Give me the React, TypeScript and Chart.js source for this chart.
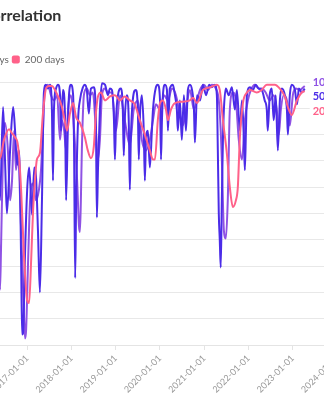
import { useEffect, useRef } from "react";
import { Chart, registerables } from "chart.js";

Chart.register(...registerables);

const TITLE = "Correlation";
const LEGEND_ORDER = ["50 days", "100 days", "200 days"];
const TICK_YEARS = [2016, 2017, 2018, 2019, 2020, 2021, 2022, 2023, 2024];
const X_MIN = "2015-12-17";
const X_MAX = "2024-04-01";

const BLUE = "#4b2ce8";
const PURPLE = "#8f52e4";
const PINK = "#ff6189";

const days50Dates = [
  "2015-12-17", "2016-02-14", "2016-04-03", "2016-05-05", "2016-05-22", "2016-06-16", "2016-07-02", "2016-07-18",
  "2016-08-13", "2016-09-07", "2016-09-23", "2016-10-10", "2016-10-26", "2016-11-12", "2016-11-20", "2016-11-28",
  "2016-12-15", "2017-01-01", "2017-01-17", "2017-02-03", "2017-02-11", "2017-02-28", "2017-03-14", "2017-03-31",
  "2017-04-16", "2017-05-03", "2017-05-19", "2017-06-05", "2017-06-21", "2017-07-08", "2017-07-24", "2017-08-02",
  "2017-08-10", "2017-08-27", "2017-09-13", "2017-09-29", "2017-10-07", "2017-10-23", "2017-11-10", "2017-11-18",
  "2017-12-04", "2017-12-12", "2017-12-28", "2018-01-15", "2018-01-23", "2018-02-01", "2018-02-09", "2018-02-25",
  "2018-03-12", "2018-04-06", "2018-04-22", "2018-05-08", "2018-05-25", "2018-06-11", "2018-07-05", "2018-07-22",
  "2018-07-30", "2018-08-08", "2018-08-24", "2018-09-10", "2018-10-05", "2018-10-29", "2018-11-15", "2018-12-01",
  "2018-12-18", "2018-12-26", "2019-01-04", "2019-01-20", "2019-02-14", "2019-03-01", "2019-03-09", "2019-03-17",
  "2019-04-03", "2019-04-19", "2019-04-28", "2019-05-06", "2019-05-22", "2019-06-16", "2019-07-03", "2019-07-11",
  "2019-07-19", "2019-08-05", "2019-08-21", "2019-08-30", "2019-09-08", "2019-09-24", "2019-10-10", "2019-10-27",
  "2019-11-05", "2019-11-29", "2019-12-15", "2020-01-02", "2020-01-10", "2020-01-18", "2020-01-26", "2020-02-12",
  "2020-02-28", "2020-03-07", "2020-03-23", "2020-04-17", "2020-05-04", "2020-05-20", "2020-05-28", "2020-06-14",
  "2020-06-30", "2020-07-17", "2020-08-03", "2020-08-19", "2020-09-05", "2020-09-22", "2020-10-08", "2020-10-16",
  "2020-11-02", "2020-11-27", "2020-12-21", "2021-01-16", "2021-02-10", "2021-03-04", "2021-03-29", "2021-04-15",
  "2021-04-23", "2021-05-01", "2021-05-09", "2021-05-17", "2021-05-26", "2021-06-04", "2021-06-12", "2021-06-28",
  "2021-07-22", "2021-08-17", "2021-09-11", "2021-09-27", "2021-10-22", "2021-11-08", "2021-11-24", "2021-12-02",
  "2021-12-11", "2021-12-19", "2022-01-13", "2022-02-07", "2022-03-02", "2022-03-26", "2022-04-20", "2022-05-15",
  "2022-06-01", "2022-06-09", "2022-06-25", "2022-07-12", "2022-07-28", "2022-08-14", "2022-08-31", "2022-09-17",
  "2022-10-03", "2022-10-28", "2022-11-14", "2022-11-22", "2022-12-08", "2022-12-24", "2023-01-19", "2023-02-05",
  "2023-02-21", "2023-03-16", "2023-04-10",
];
const days50Values = [
  0.79, 0.56, 0.86, 0.41, 0.1, 0.81, 0.41, 0.0,
  0.48, 0.81, 0.63, 0.37, 0.48, -0.35, -0.92, -0.91,
  -0.28, 0.18, 0.35, 0.1, -0.01, 0.35, 0.29, -0.13,
  -0.6, 0.1, 0.92, 0.98, 0.95, 0.98, 0.79, 0.25,
  0.79, 0.95, 0.98, 0.9, 0.63, 0.94, 0.71, 0.1,
  0.71, 0.9, 0.98, 0.9, 0.48, -0.49, 0.1, 0.71,
  0.86, 0.96, 0.98, 0.94, 0.76, 0.95, 0.96, 0.71,
  -0.03, 0.33, 0.79, 0.99, 0.98, 0.9, 0.95, 0.94,
  0.71, 0.41, 0.71, 0.9, 0.95, 0.79, 0.44, 0.71,
  0.9, 0.71, 0.18, 0.56, 0.86, 0.94, 0.79, 0.41,
  0.71, 0.9, 0.63, 0.25, 0.56, 0.63, 0.35, 0.63,
  0.79, 0.96, 0.98, 0.86, 0.41, 0.71, 0.9, 0.98,
  0.94, 0.63, 0.95, 0.98, 0.9, 0.79, 0.63, 0.86,
  0.56, 0.9, 0.63, 0.94, 0.98, 0.94, 0.79, 0.54,
  0.9, 0.86, 0.98, 0.9, 0.98, 0.96, 0.98, 0.9,
  0.48, 0.0, -0.2, -0.41, 0.1, 0.56, 0.79, 0.95,
  0.9, 0.96, 0.79, 0.94, 0.63, 0.86, 0.56, 0.33,
  0.63, 0.9, 0.96, 0.94, 0.98, 0.95, 0.94, 0.86,
  0.79, 0.63, 0.9, 0.95, 0.71, 0.9, 0.48, 0.86,
  0.95, 0.9, 0.79, 0.6, 0.9, 0.98, 0.94, 0.83,
  0.95, 0.92, 0.95,
];

const days100Dates = [
  "2015-12-17", "2016-02-29", "2016-04-19", "2016-05-13", "2016-05-22", "2016-05-30", "2016-06-16", "2016-07-02",
  "2016-07-26", "2016-08-13", "2016-08-29", "2016-09-15", "2016-10-01", "2016-10-18", "2016-11-04", "2016-11-20",
  "2016-12-07", "2016-12-15", "2016-12-23", "2017-01-09", "2017-01-25", "2017-02-19", "2017-03-14", "2017-04-08",
  "2017-04-25", "2017-05-11", "2017-05-27", "2017-06-21", "2017-07-16", "2017-08-10", "2017-09-05", "2017-09-29",
  "2017-10-15", "2017-11-02", "2017-11-18", "2017-12-04", "2017-12-28", "2018-01-23", "2018-02-17", "2018-03-04",
  "2018-03-12", "2018-03-20", "2018-03-28", "2018-04-14", "2018-05-08", "2018-06-03", "2018-06-27", "2018-07-22",
  "2018-08-08", "2018-08-24", "2018-09-10", "2018-10-05", "2018-10-29", "2018-12-01", "2019-01-04", "2019-02-06",
  "2019-03-17", "2019-04-28", "2019-05-30", "2019-07-03", "2019-08-05", "2019-09-08", "2019-10-10", "2019-11-05",
  "2019-11-29", "2020-01-02", "2020-02-04", "2020-03-07", "2020-04-09", "2020-05-12", "2020-06-14", "2020-07-09",
  "2020-08-03", "2020-09-05", "2020-10-08", "2020-11-02", "2020-11-27", "2020-12-29", "2021-02-02", "2021-03-04",
  "2021-04-07", "2021-05-01", "2021-05-17", "2021-05-26", "2021-06-12", "2021-06-28", "2021-07-14", "2021-07-31",
  "2021-08-25", "2021-09-19", "2021-10-13", "2021-11-08", "2021-12-02", "2021-12-27", "2022-01-21", "2022-02-23",
  "2022-03-26", "2022-04-20", "2022-05-23", "2022-06-25", "2022-07-28", "2022-08-22", "2022-09-09", "2022-09-25",
  "2022-10-19", "2022-11-14", "2022-12-08", "2023-01-02", "2023-01-27", "2023-03-01", "2023-04-10",
];
const days100Values = [
  0.64, 0.71, 0.48, -0.2, -0.58, -0.28, 0.48, 0.69,
  0.48, 0.1, 0.25, 0.63, 0.33, 0.48, 0.1, -0.35,
  -0.81, -0.95, -0.89, -0.35, 0.1, 0.23, 0.1, 0.18,
  0.33, 0.63, 0.94, 0.98, 0.9, 0.86, 0.9, 0.56,
  0.71, 0.63, 0.48, 0.79, 0.9, 0.63, 0.25, -0.09,
  -0.14, 0.1, 0.48, 0.9, 0.95, 0.9, 0.92, 0.63,
  0.41, 0.56, 0.9, 0.95, 0.92, 0.92, 0.63, 0.9,
  0.71, 0.52, 0.79, 0.86, 0.56, 0.48, 0.56, 0.71,
  0.83, 0.79, 0.9, 0.86, 0.95, 0.9, 0.75, 0.67,
  0.79, 0.94, 0.79, 0.86, 0.94, 0.98, 0.94, 0.98,
  0.95, 0.86, 0.63, 0.41, -0.13, -0.19, 0.1, 0.79,
  0.92, 0.86, 0.56, 0.41, 0.71, 0.86, 0.94, 0.98,
  0.95, 0.95, 0.92, 0.86, 0.9, 0.79, 0.6, 0.79,
  0.9, 0.86, 0.67, 0.9, 0.95, 0.94, 0.97,
];

const days200Dates = [
  "2015-12-17", "2016-02-29", "2016-04-19", "2016-05-22", "2016-06-24", "2016-08-05", "2016-08-29", "2016-09-23",
  "2016-10-18", "2016-11-12", "2016-12-07", "2017-01-01", "2017-01-17", "2017-02-03", "2017-02-19", "2017-03-06",
  "2017-03-22", "2017-04-16", "2017-05-11", "2017-06-05", "2017-06-30", "2017-07-24", "2017-08-18", "2017-09-13",
  "2017-10-15", "2017-11-10", "2017-11-26", "2017-12-20", "2018-01-15", "2018-02-09", "2018-03-12", "2018-04-22",
  "2018-05-16", "2018-06-11", "2018-07-05", "2018-07-22", "2018-08-08", "2018-09-02", "2018-10-05", "2018-11-15",
  "2018-12-26", "2019-02-06", "2019-03-17", "2019-04-28", "2019-06-08", "2019-07-19", "2019-08-30", "2019-10-10",
  "2019-11-05", "2019-11-21", "2019-12-15", "2020-01-02", "2020-01-26", "2020-02-20", "2020-03-07", "2020-04-01",
  "2020-05-04", "2020-07-09", "2020-09-05", "2020-09-30", "2020-11-02", "2020-12-21", "2021-02-18", "2021-04-15",
  "2021-05-09", "2021-06-04", "2021-07-06", "2021-07-31", "2021-08-25", "2021-09-19", "2021-10-05", "2021-10-22",
  "2021-11-16", "2021-12-19", "2022-01-13", "2022-03-10", "2022-04-20", "2022-06-01", "2022-08-06", "2022-09-17",
  "2022-10-28", "2022-11-22", "2022-12-24", "2023-02-05", "2023-03-16", "2023-04-10",
];
const days200Values = [
  0.67, 0.48, 0.41, 0.42, 0.56, 0.64, 0.61, 0.58,
  0.51, 0.18, -0.35, -0.66, -0.68, -0.35, 0.03, 0.25,
  0.41, 0.46, 0.76, 0.95, 0.97, 0.97, 0.94, 0.89,
  0.81, 0.69, 0.63, 0.76, 0.84, 0.73, 0.69, 0.58,
  0.48, 0.42, 0.51, 0.76, 0.89, 0.92, 0.86, 0.89,
  0.9, 0.86, 0.89, 0.86, 0.83, 0.71, 0.6, 0.48,
  0.41, 0.41, 0.71, 0.84, 0.86, 0.79, 0.71, 0.79,
  0.84, 0.85, 0.86, 0.88, 0.84, 0.94, 0.96, 0.98,
  0.94, 0.71, 0.46, 0.2, 0.05, 0.1, 0.2, 0.58,
  0.84, 0.92, 0.94, 0.92, 0.94, 0.98, 0.98, 0.95,
  0.89, 0.81, 0.75, 0.86, 0.92, 0.93,
];

const toPoints = (dates: string[], values: number[]) =>
  dates.map((d, i) => ({ x: Date.parse(d), y: values[i] }));

const endLabels = {
  id: "endLabels",
  afterDatasetsDraw(chart: any) {
    const { ctx, chartArea } = chart;
    const items = chart.data.datasets
      .map((ds: any, i: number) => {
        const meta = chart.getDatasetMeta(i);
        const pt = meta.data[meta.data.length - 1];
        return { x: pt.x, y: pt.y, text: ds.label, color: ds.borderColor };
      })
      .sort((a: any, b: any) => a.y - b.y);
    const x0 = Math.max(...items.map((it: any) => it.x)) + 8;
    ctx.save();
    ctx.font = "bold 11px Lato";
    ctx.textBaseline = "alphabetic";
    ctx.textAlign = "left";
    let prev = -Infinity;
    items.forEach((it: any) => {
      const y = Math.max(it.y, chartArea.top, prev + 14.5);
      prev = y;
      const w = ctx.measureText(it.text).width;
      ctx.fillStyle = "#ffffff";
      ctx.fillRect(x0 - 3, y - 11, w + 6, 14);
      ctx.fillStyle = it.color;
      ctx.fillText(it.text, x0, y);
    });
    ctx.restore();
  },
};

export default function App() {
  const ref = useRef<HTMLCanvasElement | null>(null);

  useEffect(() => {
    if (!ref.current) return;
    const chart = new Chart(ref.current, {
      type: "line",
      data: {
        datasets: [
          {
            label: "200 days",
            data: toPoints(days200Dates, days200Values),
            borderColor: PINK,
            backgroundColor: PINK,
            borderWidth: 2,
            pointRadius: 0,
            cubicInterpolationMode: "monotone",
          },
          {
            label: "50 days",
            data: toPoints(days50Dates, days50Values),
            borderColor: BLUE,
            backgroundColor: BLUE,
            borderWidth: 2,
            pointRadius: 0,
            cubicInterpolationMode: "monotone",
          },
          {
            label: "100 days",
            data: toPoints(days100Dates, days100Values),
            borderColor: PURPLE,
            backgroundColor: PURPLE,
            borderWidth: 2,
            pointRadius: 0,
            cubicInterpolationMode: "monotone",
          },
        ],
      },
      options: {
        animation: false,
        responsive: false,
        layout: { padding: { left: 0, right: 12, top: 0, bottom: 0 } },
        plugins: {
          tooltip: { enabled: false },
          title: {
            display: true,
            text: TITLE,
            align: "start",
            fullSize: false,
            color: "#333333",
            font: { family: "Lato", size: 16, weight: "bold" },
            padding: { top: 6, bottom: 26.3 },
          },
          legend: {
            display: true,
            position: "top",
            align: "start",
            labels: {
              boxWidth: 8,
              boxHeight: 8,
              padding: 3,
              color: "#666666",
              font: { family: "Lato", size: 10 },
              useBorderRadius: true,
              borderRadius: 2,
              sort: (a: any, b: any) => LEGEND_ORDER.indexOf(a.text) - LEGEND_ORDER.indexOf(b.text),
              generateLabels: (c: any) =>
                (Chart.defaults.plugins.legend.labels.generateLabels as any)(c).map((l: any) => ({
                  ...l,
                  lineWidth: 0,
                  borderRadius: 2,
                })),
            },
          },
          subtitle: {
            display: true,
            text: "",
            position: "top",
            weight: 500,
            font: { size: 1 },
            padding: { top: 6.3, bottom: 0 },
          },
        },
        scales: {
          x: {
            type: "linear",
            min: Date.parse(X_MIN),
            max: Date.parse(X_MAX),
            afterBuildTicks: (scale: any) => {
              scale.ticks = TICK_YEARS.map((y) => ({ value: Date.UTC(y, 0, 1) }));
            },
            afterFit: (scale: any) => {
              scale.height = 55;
            },
            ticks: {
              autoSkip: false,
              minRotation: 45,
              maxRotation: 45,
              color: "#999999",
              font: { family: "Lato", size: 9 },
              callback: (v: any) => `${new Date(v).getUTCFullYear()}-01-01`,
            },
            grid: { drawOnChartArea: false, tickLength: 5, color: "#e4e4e4" },
            border: { color: "#e4e4e4" },
          },
          y: {
            min: -1,
            max: 1,
            afterFit: (scale: any) => {
              scale.width = 78;
            },
            ticks: { stepSize: 0.2, color: "#999999", font: { family: "Lato", size: 9 } },
            grid: { color: "#e8e8e8", drawTicks: false },
            border: { display: false },
          },
        },
      },
      plugins: [endLabels],
    });
    return () => chart.destroy();
  }, []);

  return (
    <div style={{ position: "fixed", left: 0, top: 0, width: 324, height: 400, overflow: "hidden", background: "#fff" }}>
      <div style={{ position: "absolute", left: -97, top: 0, width: 457, height: 400 }}>
        <canvas ref={ref} width={457} height={400} style={{ width: 457, height: 400, display: "block" }} />
      </div>
    </div>
  );
}
